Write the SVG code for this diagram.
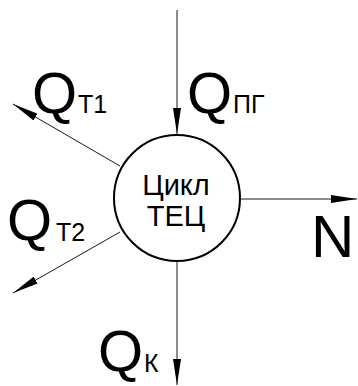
<svg xmlns="http://www.w3.org/2000/svg" width="358" height="386" viewBox="0 0 358 386">
<style>
.ln{stroke:#000;stroke-width:0.9;fill:none}
.big{font-family:"Liberation Sans",Arial,sans-serif;font-size:58px;fill:#000}
.sub{font-family:"Liberation Sans",Arial,sans-serif;font-size:25px;fill:#000}
.ctr{font-family:"Liberation Sans",Arial,sans-serif;font-size:29px;fill:#000;text-anchor:middle}
</style>
<defs>
<marker id="ah" viewBox="0 0 26 8" refX="26" refY="4" markerWidth="26" markerHeight="8" orient="auto" markerUnits="userSpaceOnUse">
<path d="M0,0 L26,4 L0,8 z" fill="#000"/>
</marker>
</defs>
<g id="connectors">
<line class="ln" x1="177" y1="10" x2="177" y2="134" marker-end="url(#ah)"/>
<line class="ln" x1="120" y1="166" x2="13" y2="104" marker-end="url(#ah)"/>
<line class="ln" x1="120" y1="232" x2="13" y2="293" marker-end="url(#ah)"/>
<line class="ln" x1="240" y1="199" x2="357" y2="199" marker-end="url(#ah)"/>
<line class="ln" x1="177" y1="262" x2="177" y2="385" marker-end="url(#ah)"/>
</g>
<g id="cycle">
<circle cx="177" cy="198" r="63" fill="#fff" stroke="#000" stroke-width="2"/>
<text class="ctr" x="176" y="195">Цикл</text>
<text class="ctr" x="176" y="226">ТЕЦ</text>
</g>
<g id="qt1"><text class="big" x="32" y="113">Q</text><text class="sub" x="78" y="113">Т1</text></g>
<g id="qpg"><text class="big" x="187" y="113">Q</text><text class="sub" x="233" y="113">ПГ</text></g>
<g id="qt2"><text class="big" x="7" y="240">Q</text><text class="sub" x="56" y="241">Т2</text></g>
<g id="n"><text class="big" x="311" y="257" style="font-size:60px">N</text></g>
<g id="qk"><text class="big" x="98" y="371">Q</text><text class="sub" x="144" y="372">К</text></g>
</svg>
